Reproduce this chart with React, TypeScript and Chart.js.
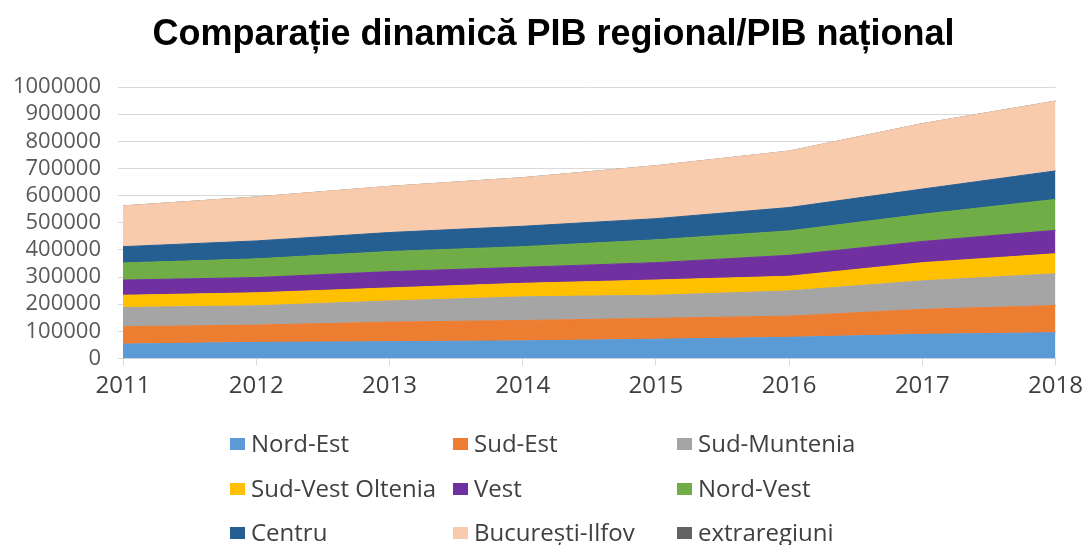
import React, { useEffect, useRef } from "react";
import { Chart, registerables } from "chart.js";

Chart.register(...registerables);

const years = ["2011", "2012", "2013", "2014", "2015", "2016", "2017", "2018"];

const nordEst = [53000, 59500, 62000, 65000, 71000, 78000, 89000, 95000];
const sudEst = [64000, 63500, 72000, 75000, 77000, 78000, 92000, 100000];
const sudMuntenia = [71000, 71000, 78000, 87000, 85000, 93000, 105000, 117000];
const sudVestOltenia = [45000, 48000, 48000, 50000, 56000, 54000, 67000, 74000];
const vest = [56000, 56000, 60000, 59000, 64000, 77000, 78000, 86000];
const nordVest = [63000, 69000, 74000, 76000, 84000, 90000, 100000, 114000];
const centru = [60000, 66000, 70000, 75000, 78000, 86000, 93000, 105000];
const bucurestiIlfov = [150000, 162000, 170000, 179000, 195000, 208000, 241000, 257000];
const extraregiuni = [0, 0, 0, 0, 0, 0, 0, 0];

const seriesNames = [
  "Nord-Est",
  "Sud-Est",
  "Sud-Muntenia",
  "Sud-Vest Oltenia",
  "Vest",
  "Nord-Vest",
  "Centru",
  "București-Ilfov",
  "extraregiuni",
];
const seriesValues = [
  nordEst,
  sudEst,
  sudMuntenia,
  sudVestOltenia,
  vest,
  nordVest,
  centru,
  bucurestiIlfov,
  extraregiuni,
];
const seriesColors = [
  "#5B9BD5",
  "#ED7D31",
  "#A5A5A5",
  "#FFC000",
  "#7030A0",
  "#70AD47",
  "#255E91",
  "#F8CBAD",
  "#636363",
];

const yTicks = [0, 100000, 200000, 300000, 400000, 500000, 600000, 700000, 800000, 900000, 1000000];
const titleText = "Comparație dinamică PIB regional/PIB național";

export default function App() {
  const ref = useRef<HTMLCanvasElement>(null);

  useEffect(() => {
    if (!ref.current) return;

    const titlePlugin = {
      id: "customTitle",
      afterDraw(chart: any) {
        const ctx = chart.ctx;
        ctx.save();
        ctx.font = "bold 36px 'Liberation Sans', Arial, sans-serif";
        ctx.fillStyle = "#000000";
        ctx.textAlign = "center";
        ctx.textBaseline = "alphabetic";
        ctx.fillText(titleText, 553.5, 45);
        ctx.restore();
      },
    };

    const legendPlugin = {
      id: "gridLegend",
      afterDraw(chart: any) {
        const ctx = chart.ctx;
        const colX = [230, 453, 677];
        const rowY = [444, 489, 533];
        ctx.save();
        ctx.font = "24px 'Open Sans', sans-serif";
        ctx.textBaseline = "middle";
        ctx.textAlign = "left";
        chart.data.datasets.forEach((ds: any, i: number) => {
          const col = i % 3;
          const row = Math.floor(i / 3);
          const x = colX[col];
          const y = rowY[row];
          ctx.fillStyle = ds.backgroundColor;
          ctx.fillRect(x, y - 6, 15, 12);
          ctx.fillStyle = "#404040";
          ctx.fillText(ds.label, x + 21, y + 1);
        });
        ctx.restore();
      },
    };

    const chart = new Chart(ref.current, {
      type: "line",
      data: {
        labels: years,
        datasets: seriesNames.map((name, i) => ({
          label: name,
          data: seriesValues[i],
          backgroundColor: seriesColors[i],
          borderColor: seriesColors[i],
          borderWidth: 1,
          fill: i === 0 ? "origin" : "-1",
          pointRadius: 0,
          tension: 0,
        })),
      },
      options: {
        responsive: false,
        animation: false,
        layout: { padding: { top: 87, right: 31, left: 0, bottom: 0 } },
        plugins: {
          legend: { display: false },
          title: { display: false },
          tooltip: { enabled: false },
        },
        scales: {
          x: {
            grid: {
              drawOnChartArea: false,
              drawTicks: true,
              tickLength: 7,
              color: "#d9d9d9",
            },
            border: { color: "#d9d9d9" },
            ticks: {
              font: { family: "'Open Sans', sans-serif", size: 24 },
              color: "#404040",
              padding: 6,
              maxRotation: 0,
              autoSkip: false,
            },
            afterFit: (s: any) => {
              s.height = 545 - 358.5;
            },
          },
          y: {
            stacked: true,
            min: 0,
            max: 1000000,
            afterBuildTicks: (s: any) => {
              s.ticks = yTicks.map((v) => ({ value: v }));
            },
            ticks: {
              font: { family: "'Open Sans', sans-serif", size: 22, lineHeight: 1 },
              color: "#595959",
              padding: 17,
              autoSkip: false,
              callback: (v: any) => String(v),
            },
            grid: { color: "#d9d9d9", tickLength: 5 },
            border: { display: false },
            afterFit: (s: any) => {
              s.width = 123;
            },
          },
        },
      },
      plugins: [titlePlugin, legendPlugin],
    });

    return () => chart.destroy();
  }, []);

  return (
    <div style={{ position: "absolute", left: 0, top: 0, width: 1089, height: 545, background: "#fff" }}>
      <canvas ref={ref} width={1089} height={545} style={{ display: "block" }} />
    </div>
  );
}
